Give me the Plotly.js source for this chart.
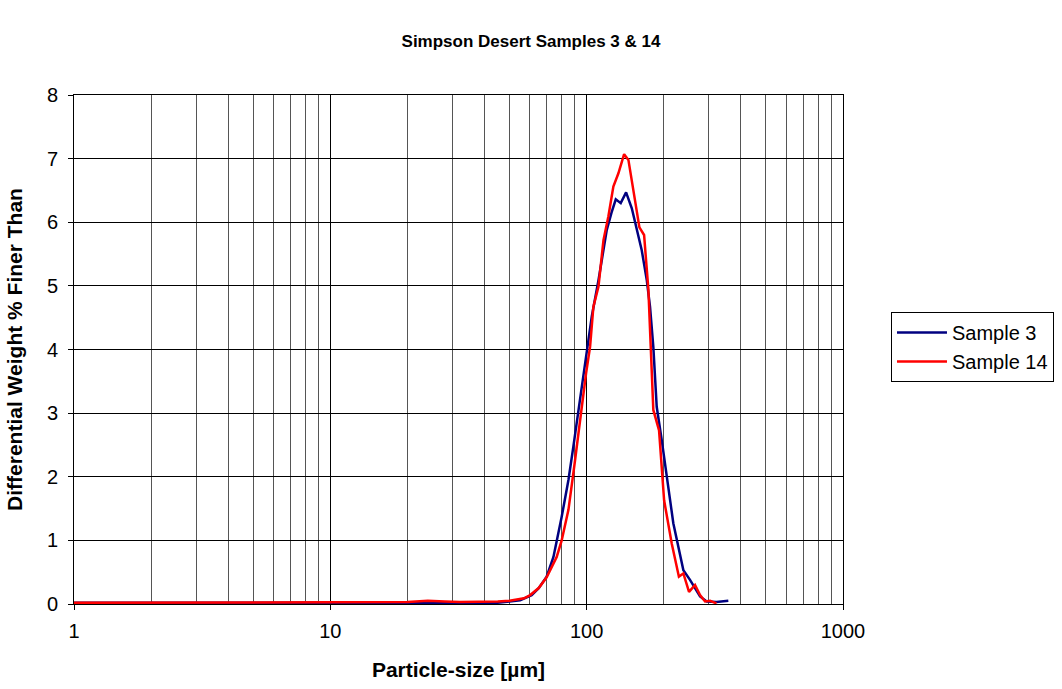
<!DOCTYPE html>
<html>
<head>
<meta charset="utf-8">
<script src="https://cdn.plot.ly/plotly-3.0.1.min.js"></script>
<style>html,body{margin:0;padding:0;background:#fff;}#chart{width:1062px;height:689px;}</style>
</head>
<body>
<div id="chart"></div>
<script>
// Sample 3 (particle size in µm, differential weight %)
const sample3X = [1, 1.5, 2, 3, 4, 5, 7, 10, 15, 20, 25, 30, 35, 40, 45, 50, 55, 61, 65, 69.8, 74.2, 79.9, 84.9, 88.7, 94.2, 100.1, 104.7, 111.2, 119.8, 125, 129.9, 135.8, 142.5, 150, 156.8, 164, 171.6, 176.7, 182, 187.6, 196.2, 205, 217.8, 238.4, 253, 276.9, 294, 321, 357];
const sample3Y = [0.02, 0.02, 0.02, 0.02, 0.03, 0.03, 0.03, 0.03, 0.02, 0.02, 0.02, 0.02, 0.02, 0.02, 0.02, 0.04, 0.06, 0.14, 0.25, 0.43, 0.74, 1.37, 1.95, 2.47, 3.21, 3.94, 4.52, 5.09, 5.88, 6.15, 6.36, 6.30, 6.47, 6.22, 5.88, 5.56, 5.09, 4.67, 4.04, 3.10, 2.58, 2.00, 1.27, 0.53, 0.38, 0.12, 0.04, 0.03, 0.05];

// Sample 14
const sample14X = [1, 1.5, 2, 3, 4, 5, 7, 10, 15, 20, 24, 26, 28, 32, 40, 45, 50, 57, 60.2, 65, 69.8, 76.4, 79.9, 84.9, 90.1, 95.7, 99.5, 103.1, 106.2, 111.2, 116.3, 121.5, 127.1, 133, 140, 145.5, 152.2, 160.6, 167.5, 174.1, 182, 191.6, 200.5, 214.7, 229, 238.4, 250.8, 264.7, 276.9, 289.7, 303, 321];
const sample14Y = [0.02, 0.02, 0.02, 0.02, 0.02, 0.02, 0.02, 0.02, 0.02, 0.03, 0.05, 0.05, 0.04, 0.03, 0.03, 0.04, 0.05, 0.09, 0.14, 0.25, 0.42, 0.74, 1.00, 1.48, 2.26, 3.15, 3.63, 4.04, 4.67, 4.99, 5.72, 6.09, 6.56, 6.77, 7.07, 6.98, 6.51, 5.92, 5.80, 4.94, 3.05, 2.73, 1.63, 0.95, 0.43, 0.48, 0.19, 0.30, 0.14, 0.04, 0.05, 0.01];

const titleText = 'Simpson Desert Samples 3 & 14';
const xTitle = 'Particle-size [µm]';
const yTitle = 'Differential Weight % Finer Than';
const xTickVals = [1, 10, 100, 1000];
const xTickText = ['1', '10', '100', '1000'];

const FONT = 'Arial, "Liberation Sans", sans-serif';

const traces = [
  {x: sample3X, y: sample3Y, name: 'Sample 3', type: 'scatter', mode: 'lines',
   line: {color: '#000080', width: 2.5}},
  {x: sample14X, y: sample14Y, name: 'Sample 14', type: 'scatter', mode: 'lines',
   line: {color: '#FF0000', width: 2.5}}
];

const layout = {
  width: 1062, height: 689,
  paper_bgcolor: '#fff', plot_bgcolor: '#fff',
  margin: {l: 74, r: 219, t: 95, b: 85, autoexpand: false},
  font: {family: FONT, size: 20, color: '#000'},
  title: {text: titleText, x: 0.5, xref: 'container', y: 0.94, yref: 'container', yanchor: 'middle',
          font: {family: FONT, size: 17, weight: 'bold', color: '#000'}},
  xaxis: {
    type: 'log', range: [0, 3],
    tickvals: xTickVals, ticktext: xTickText,
    ticks: 'outside', ticklen: 5, tickcolor: '#000',
    ticklabelstandoff: 4,
    showgrid: true, gridcolor: '#000', gridwidth: 1,
    minor: {dtick: 'D1', showgrid: true, gridcolor: '#555', gridwidth: 1, ticks: ''},
    showline: true, linecolor: '#000', linewidth: 1, mirror: true,
    zeroline: false,
    tickfont: {family: FONT, size: 20, color: '#000'},
    title: {text: xTitle, font: {family: FONT, size: 21, weight: 'bold', color: '#000'}}
  },
  yaxis: {
    range: [0, 8], dtick: 1,
    ticks: 'outside', ticklen: 5, tickcolor: '#000',
    ticklabelstandoff: 6,
    showgrid: true, gridcolor: '#000', gridwidth: 1,
    showline: true, linecolor: '#000', linewidth: 1, mirror: true,
    zeroline: false,
    tickfont: {family: FONT, size: 20, color: '#000'},
    title: {text: yTitle, font: {family: FONT, size: 21, weight: 'bold', color: '#000'}}
  },
  showlegend: true,
  legend: {
    x: 1.0624, xanchor: 'left', y: 0.505, yanchor: 'middle',
    bordercolor: '#000', borderwidth: 1, bgcolor: '#fff',
    font: {family: FONT, size: 20, color: '#000'},
    itemwidth: 50,
    tracegroupgap: 0
  }
};

Plotly.newPlot('chart', traces, layout, {staticPlot: true, displayModeBar: false});
</script>
</body>
</html>
